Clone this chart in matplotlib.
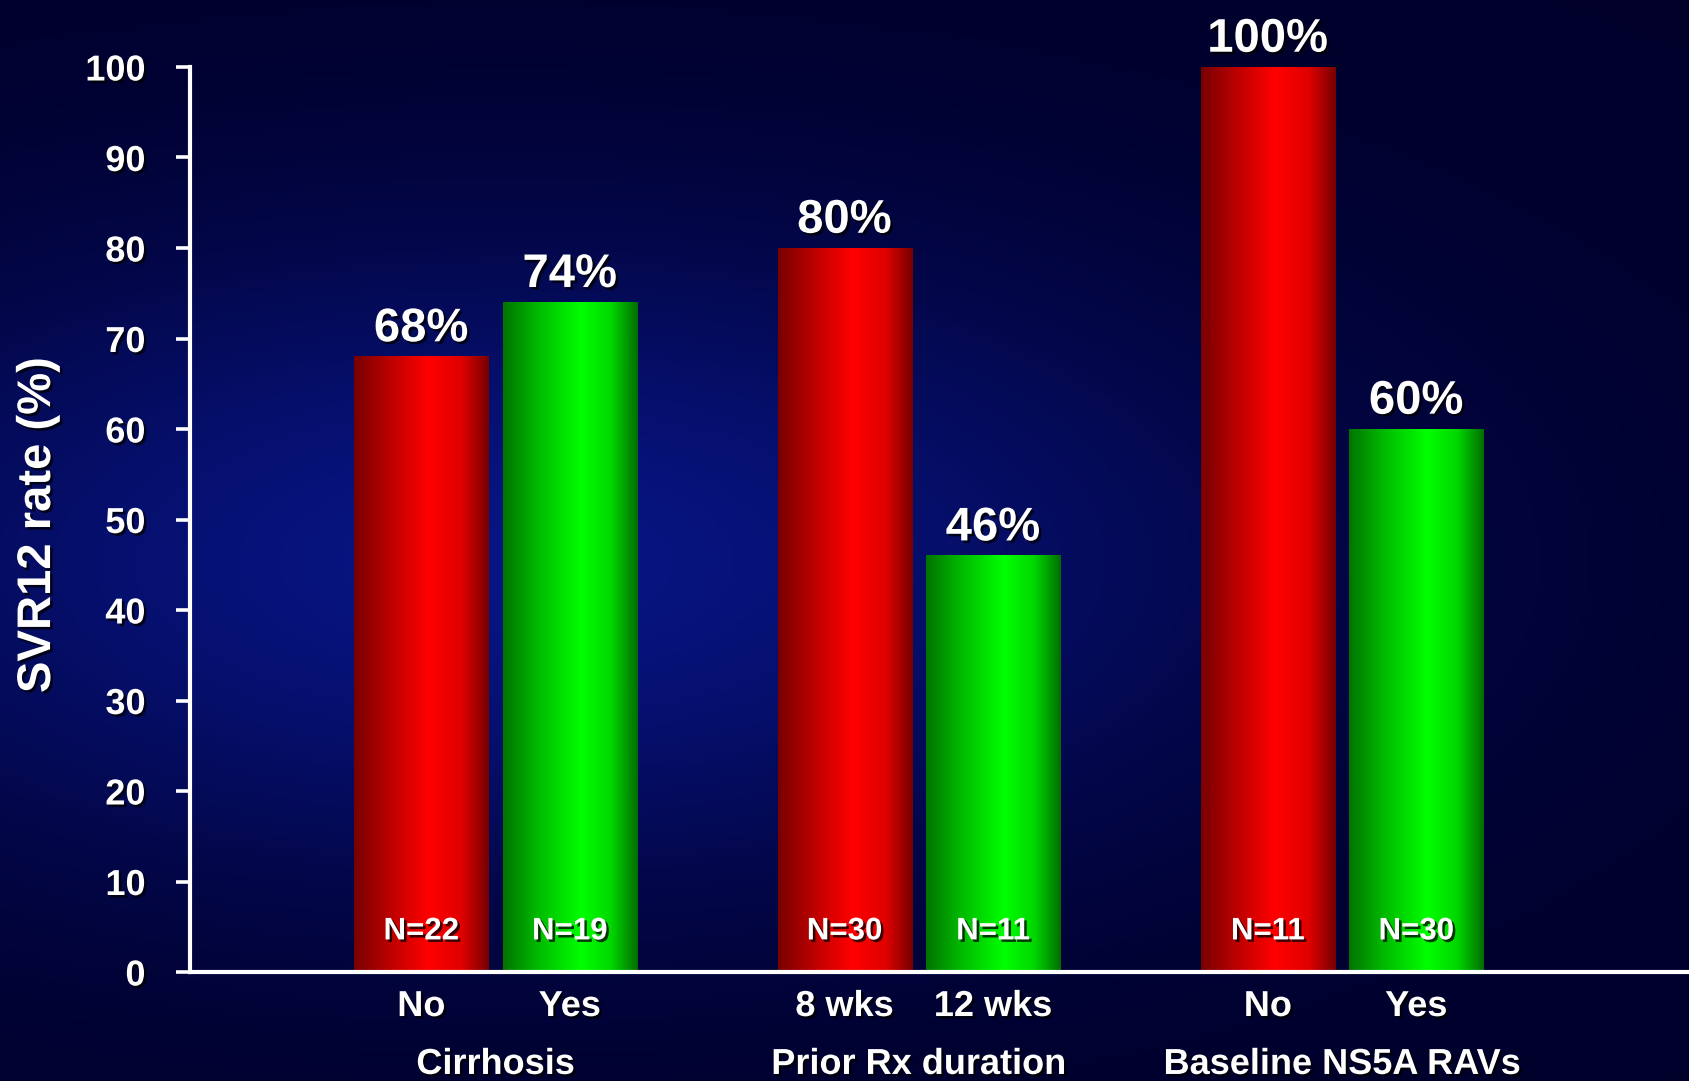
import matplotlib
matplotlib.use("Agg")
import matplotlib.pyplot as plt
import matplotlib.patheffects as pe
import numpy as np
from matplotlib.colors import LinearSegmentedColormap

# data
groups = ["Cirrhosis", "Prior Rx duration", "Baseline NS5A RAVs"]
sub_labels = ["No", "Yes", "8 wks", "12 wks", "No", "Yes"]
svr_rates = [68, 74, 80, 46, 100, 60]
n_counts = [22, 19, 30, 11, 11, 30]
bar_kinds = ["red", "green", "red", "green", "red", "green"]

plt.rcParams['font.family'] = ['Liberation Sans', 'DejaVu Sans']
plt.rcParams['font.weight'] = 'bold'

shadow = [pe.withSimplePatchShadow(offset=(1.8, -1.8), shadow_rgbFace='black', alpha=0.75)]

fig = plt.figure(figsize=(16.9, 10.81), dpi=100)

# background: dark navy with a soft brighter blue glow
bg = fig.add_axes([0, 0, 1, 1], zorder=-10)
yy, xx = np.mgrid[0:1:300j, 0:1:450j]
glow = np.exp(-(((xx - 0.30) / 0.45) ** 2 + ((yy - 0.52) / 0.30) ** 2))
base = np.array([0.0, 0.0, 0.17])
lift = np.array([0.03, 0.08, 0.34])
img = base + glow[..., None] * lift
bg.imshow(img, aspect='auto', extent=[0, 1, 0, 1], origin='upper')
bg.set_axis_off()

ax = fig.add_axes([190 / 1690, 1 - 972 / 1081, 1497 / 1690, 905 / 1081])
ax.patch.set_alpha(0)

# bar positions
offset = 0.1754
width = 0.3166
xpos = []
for g in range(len(groups)):
    xpos += [g - offset, g + offset]

cmaps = {
    "red": LinearSegmentedColormap.from_list(
        "r", [(0, '#780000'), (0.25, '#b80000'), (0.55, '#ff0000'), (0.8, '#e00000'), (1, '#760000')]),
    "green": LinearSegmentedColormap.from_list(
        "g", [(0, '#007400'), (0.25, '#00b800'), (0.58, '#00ff00'), (0.8, '#00d800'), (1, '#006e00')]),
}

bars = ax.bar(xpos, svr_rates, width=width, color=['#ff0000' if k == 'red' else '#00ff00' for k in bar_kinds],
              edgecolor='none', zorder=2)
grad = np.linspace(0, 1, 256).reshape(1, -1)
for b, kind in zip(bars, bar_kinds):
    x0, w, h = b.get_x(), b.get_width(), b.get_height()
    ax.imshow(grad, cmap=cmaps[kind], aspect='auto', extent=[x0, x0 + w, 0, h], zorder=3)

for x, v, n in zip(xpos, svr_rates, n_counts):
    ax.annotate(f"{v}%", (x, v), xytext=(0, 11), textcoords='offset points',
                ha='center', va='baseline', color='white', fontsize=34, fontweight='bold',
                path_effects=shadow, zorder=5, annotation_clip=False)
    ax.text(x, 3.6, f"N={n}", ha='center', va='baseline', color='white', fontsize=22.5,
            fontweight='bold', path_effects=shadow, zorder=5)

for x, lab in zip(xpos, sub_labels):
    ax.annotate(lab, (x, 0), xycoords=('data', 'axes fraction'), xytext=(0, -31.7),
                textcoords='offset points', ha='center', va='baseline', color='white',
                fontsize=26, fontweight='bold', path_effects=shadow, annotation_clip=False)
for g, lab in enumerate(groups):
    ax.annotate(lab, (g, 0), xycoords=('data', 'axes fraction'), xytext=(0, -73.4),
                textcoords='offset points', ha='center', va='baseline', color='white',
                fontsize=26, fontweight='bold', path_effects=shadow, annotation_clip=False)

ax.set_xlim(-0.7218, 2.815)
ax.set_ylim(0, 100)
ax.set_yticks(range(0, 101, 10))
ax.set_xticks([])
ax.tick_params(axis='y', colors='white', length=10, width=2.6, pad=22, labelsize=26)
for t in ax.get_yticklabels():
    t.set_fontweight('bold')
    t.set_path_effects(shadow)

for s in ['top', 'right']:
    ax.spines[s].set_visible(False)
for s in ['left', 'bottom']:
    ax.spines[s].set_color('white')
    ax.spines[s].set_linewidth(3)
    ax.spines[s].set_zorder(4)

ax.set_ylabel("SVR12 rate (%)", color='white', fontsize=34, fontweight='bold', path_effects=shadow)
ax.yaxis.label.set_va('center')
ax.yaxis.set_label_coords(-0.1015, 0.494)

fig.savefig("out.png", dpi=100)
